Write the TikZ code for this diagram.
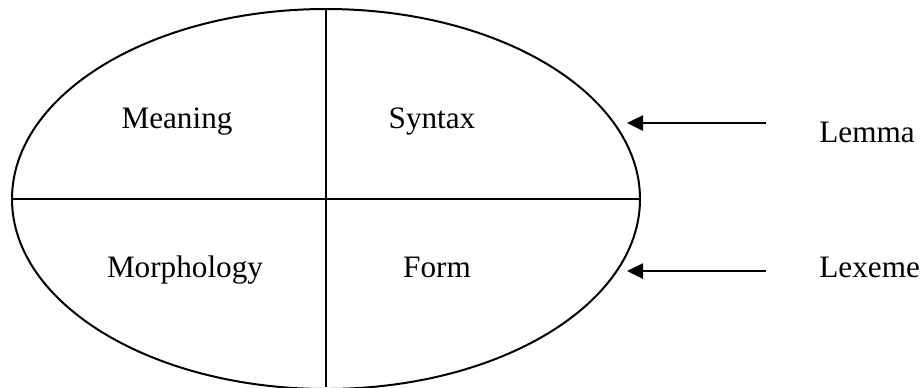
\documentclass[tikz,border=0pt]{standalone}
\usepackage{fontspec}
\setmainfont{Liberation Serif}
\usetikzlibrary{arrows.meta,shapes.geometric}
\begin{document}
\begin{tikzpicture}[x=0.5pt,y=-0.5pt,
  line/.style={line width=1pt,black},
  lbl/.style={font=\fontsize{15.6}{18}\selectfont,anchor=base,inner sep=0pt},
  side/.style={font=\fontsize{15.6}{18}\selectfont,anchor=base west,inner sep=0pt},
  pointer/.style={line width=1.3pt,-{Triangle[length=8pt,width=7.5pt]}}]
\useasboundingbox (0,0) rectangle (924,387);
\clip (0,0) rectangle (924,387);
\node[ellipse,draw,line,minimum width=314pt,minimum height=190pt,inner sep=0pt] (ell) at (326,199) {};
\coordinate (vbot) at (326,387);
\draw[line] (ell.north) -- (vbot);
\draw[line] (ell.west) -- (ell.east);
\node[lbl] (meaning) at (177,128) {Meaning};
\node[lbl] (syntax) at (432,128) {Syntax};
\node[lbl] (morph) at (185,277) {Morphology};
\node[lbl] (form) at (437,277) {Form};
\node[side] (lemma) at (819,142) {Lemma};
\node[side] (lexeme) at (819,277) {Lexeme};
\coordinate (t1) at (766,123);
\coordinate (h1) at (627,123);
\coordinate (t2) at (766,271);
\coordinate (h2) at (627,271);
\draw[pointer] (t1) -- (h1);
\draw[pointer] (t2) -- (h2);
\end{tikzpicture}
\end{document}
